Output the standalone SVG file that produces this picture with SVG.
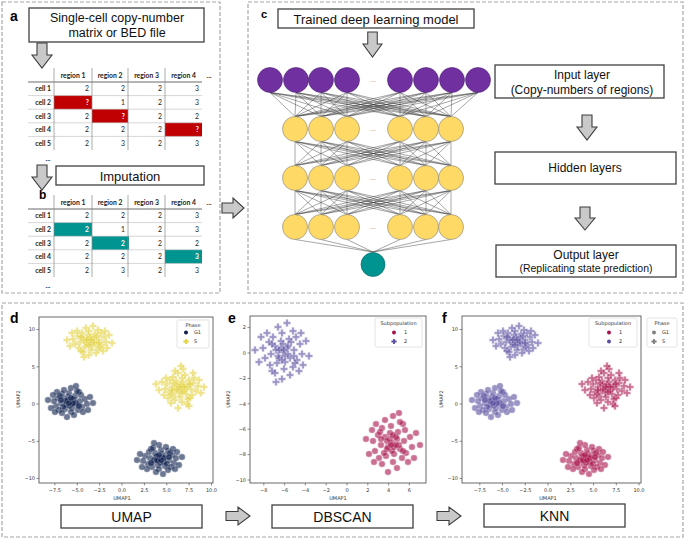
<svg xmlns="http://www.w3.org/2000/svg" width="685" height="539" viewBox="0 0 685 539">
<style>
.panel{fill:none;stroke:#a6a6a6;stroke-width:1.2;stroke-dasharray:4 2}
.box{fill:#fff;stroke:#404040;stroke-width:1.3}
.bt{font-family:"Liberation Sans",Arial,sans-serif;fill:#111;text-anchor:middle}
.lbl{font-family:"Liberation Sans",Arial,sans-serif;font-weight:bold;fill:#000}
.arr{fill:#c9c9c9;stroke:#3c3c3c;stroke-width:1.1}
.tb{font-family:Lato,"Liberation Sans",sans-serif;font-size:6.8px;fill:#222}
.th{font-weight:bold;text-anchor:middle}
.rl{font-weight:bold;text-anchor:end}
.num{text-anchor:end}
.q{fill:#fff;font-weight:bold}
.nn{stroke:#3a3a3a;stroke-width:.45;fill:none}
.pu{fill:#7030a0;stroke:#4a2070;stroke-width:.6}
.ye{fill:#ffd966;stroke:#7f7f7f;stroke-width:.6}
.te{fill:#009490;stroke:#006060;stroke-width:.6}
.dots{font-family:"DejaVu Sans",sans-serif;font-size:6px;fill:#777;text-anchor:middle}
.ax{fill:none;stroke:#444;stroke-width:.8}
.tk{stroke:#444;stroke-width:.6}
.pt{font-family:"DejaVu Sans",sans-serif;font-size:5px;fill:#333}
.xc{text-anchor:middle}
.yr{text-anchor:end}
.lg{fill:#fff;fill-opacity:.85;stroke:#d0d0d0;stroke-width:.6}
.glines line{stroke:#888;stroke-width:.7}
.glines .hd{stroke:#444;stroke-width:.8}
.glines .rw{stroke:#bbb;stroke-width:.6}
</style>
<defs>
<circle id="mc" r="3.3" stroke="#fff" stroke-width=".4" opacity=".6"/>
<path id="mp" d="M-1.2-3.7H1.2V-1.2H3.7V1.2H1.2V3.7H-1.2V1.2H-3.7V-1.2H-1.2Z" stroke="#fff" stroke-width=".35" opacity=".6"/>
<path id="lp" d="M-.9-2.6H.9V-.9H2.6V.9H.9V2.6H-.9V.9H-2.6V-.9H-.9Z"/>
<path id="da" d="M5,0H15V12H20L10,25L0,12H5Z"/>
<path id="ra" d="M0,4.5H12V0L24,9L12,18V13.5H0Z"/>
<g id="Ac"><use href="#mc" x="0" y="0"/><use href="#mc" x="3" y="-2"/><use href="#mc" x="-4" y="2"/><use href="#mc" x="6" y="3"/><use href="#mc" x="-7" y="-3"/><use href="#mc" x="2" y="5"/><use href="#mc" x="-2" y="-6"/><use href="#mc" x="9" y="-1"/><use href="#mc" x="-10" y="1"/><use href="#mc" x="5" y="-7"/><use href="#mc" x="-5" y="6"/><use href="#mc" x="12" y="4"/><use href="#mc" x="-12" y="-5"/><use href="#mc" x="1" y="9"/><use href="#mc" x="-1" y="-10"/><use href="#mc" x="8" y="8"/><use href="#mc" x="-8" y="-8"/><use href="#mc" x="14" y="-4"/><use href="#mc" x="-15" y="3"/><use href="#mc" x="4" y="-3"/><use href="#mc" x="-3" y="3"/><use href="#mc" x="7" y="-5"/><use href="#mc" x="-6" y="-1"/><use href="#mc" x="10" y="6"/><use href="#mc" x="-11" y="7"/><use href="#mc" x="16" y="1"/><use href="#mc" x="-17" y="-2"/><use href="#mc" x="0" y="-4"/><use href="#mc" x="2" y="2"/><use href="#mc" x="-2" y="-2"/><use href="#mc" x="11" y="-8"/><use href="#mc" x="-9" y="10"/><use href="#mc" x="19" y="-6"/><use href="#mc" x="-20" y="5"/><use href="#mc" x="6" y="12"/><use href="#mc" x="-4" y="-13"/><use href="#mc" x="13" y="10"/><use href="#mc" x="-13" y="-10"/><use href="#mc" x="22" y="2"/><use href="#mc" x="-23" y="-1"/><use href="#mc" x="3" y="-15"/><use href="#mc" x="-1" y="14"/><use href="#mc" x="17" y="7"/><use href="#mc" x="-18" y="-8"/><use href="#mc" x="8" y="-11"/><use href="#mc" x="-7" y="11"/><use href="#mc" x="4" y="1"/><use href="#mc" x="-3" y="-1"/><use href="#mc" x="1" y="-1"/><use href="#mc" x="-1" y="4"/><use href="#mc" x="9" y="2"/><use href="#mc" x="-9" y="-4"/><use href="#mc" x="15" y="-10"/><use href="#mc" x="-6" y="16"/></g>
<g id="Ap"><use href="#mp" x="0" y="0"/><use href="#mp" x="3" y="-2"/><use href="#mp" x="-4" y="2"/><use href="#mp" x="6" y="3"/><use href="#mp" x="-7" y="-3"/><use href="#mp" x="2" y="5"/><use href="#mp" x="-2" y="-6"/><use href="#mp" x="9" y="-1"/><use href="#mp" x="-10" y="1"/><use href="#mp" x="5" y="-7"/><use href="#mp" x="-5" y="6"/><use href="#mp" x="12" y="4"/><use href="#mp" x="-12" y="-5"/><use href="#mp" x="1" y="9"/><use href="#mp" x="-1" y="-10"/><use href="#mp" x="8" y="8"/><use href="#mp" x="-8" y="-8"/><use href="#mp" x="14" y="-4"/><use href="#mp" x="-15" y="3"/><use href="#mp" x="4" y="-3"/><use href="#mp" x="-3" y="3"/><use href="#mp" x="7" y="-5"/><use href="#mp" x="-6" y="-1"/><use href="#mp" x="10" y="6"/><use href="#mp" x="-11" y="7"/><use href="#mp" x="16" y="1"/><use href="#mp" x="-17" y="-2"/><use href="#mp" x="0" y="-4"/><use href="#mp" x="2" y="2"/><use href="#mp" x="-2" y="-2"/><use href="#mp" x="11" y="-8"/><use href="#mp" x="-9" y="10"/><use href="#mp" x="19" y="-6"/><use href="#mp" x="-20" y="5"/><use href="#mp" x="6" y="12"/><use href="#mp" x="-4" y="-13"/><use href="#mp" x="13" y="10"/><use href="#mp" x="-13" y="-10"/><use href="#mp" x="22" y="2"/><use href="#mp" x="-23" y="-1"/><use href="#mp" x="3" y="-15"/><use href="#mp" x="-1" y="14"/><use href="#mp" x="17" y="7"/><use href="#mp" x="-18" y="-8"/><use href="#mp" x="8" y="-11"/><use href="#mp" x="-7" y="11"/><use href="#mp" x="4" y="1"/><use href="#mp" x="-3" y="-1"/><use href="#mp" x="1" y="-1"/><use href="#mp" x="-1" y="4"/><use href="#mp" x="9" y="2"/><use href="#mp" x="-9" y="-4"/><use href="#mp" x="15" y="-10"/><use href="#mp" x="-6" y="16"/></g>
<g id="Ax"><use href="#mp" x="2" y="-19"/><use href="#mp" x="-6" y="-17"/><use href="#mp" x="8" y="18"/><use href="#mp" x="-3" y="20"/><use href="#mp" x="12" y="-15"/><use href="#mp" x="-10" y="15"/><use href="#mp" x="-25" y="-4"/><use href="#mp" x="0" y="-22"/></g>
<g id="Bc"><use href="#mc" x="0" y="0"/><use href="#mc" x="4" y="-4"/><use href="#mc" x="-5" y="4"/><use href="#mc" x="7" y="6"/><use href="#mc" x="-8" y="-6"/><use href="#mc" x="2" y="10"/><use href="#mc" x="-2" y="-11"/><use href="#mc" x="11" y="-2"/><use href="#mc" x="-12" y="2"/><use href="#mc" x="6" y="-13"/><use href="#mc" x="-6" y="11"/><use href="#mc" x="14" y="8"/><use href="#mc" x="-14" y="-10"/><use href="#mc" x="1" y="17"/><use href="#mc" x="-1" y="-19"/><use href="#mc" x="10" y="15"/><use href="#mc" x="-10" y="-15"/><use href="#mc" x="17" y="-8"/><use href="#mc" x="-18" y="6"/><use href="#mc" x="5" y="-6"/><use href="#mc" x="-4" y="6"/><use href="#mc" x="8" y="-10"/><use href="#mc" x="-7" y="-2"/><use href="#mc" x="12" y="11"/><use href="#mc" x="-13" y="13"/><use href="#mc" x="19" y="2"/><use href="#mc" x="-20" y="-4"/><use href="#mc" x="0" y="-8"/><use href="#mc" x="2" y="4"/><use href="#mc" x="-2" y="-4"/><use href="#mc" x="13" y="-15"/><use href="#mc" x="-11" y="19"/><use href="#mc" x="23" y="-11"/><use href="#mc" x="-24" y="10"/><use href="#mc" x="7" y="23"/><use href="#mc" x="-5" y="-25"/><use href="#mc" x="16" y="19"/><use href="#mc" x="-16" y="-19"/><use href="#mc" x="26" y="4"/><use href="#mc" x="-28" y="-2"/><use href="#mc" x="4" y="-29"/><use href="#mc" x="-1" y="27"/><use href="#mc" x="20" y="13"/><use href="#mc" x="-22" y="-15"/><use href="#mc" x="10" y="-21"/><use href="#mc" x="-8" y="21"/><use href="#mc" x="5" y="2"/><use href="#mc" x="-4" y="-2"/><use href="#mc" x="1" y="-2"/><use href="#mc" x="-1" y="8"/><use href="#mc" x="11" y="4"/><use href="#mc" x="-11" y="-8"/><use href="#mc" x="18" y="-19"/><use href="#mc" x="-7" y="30"/></g>
<g id="Bp"><use href="#mp" x="0" y="0"/><use href="#mp" x="4" y="-4"/><use href="#mp" x="-5" y="4"/><use href="#mp" x="7" y="6"/><use href="#mp" x="-8" y="-6"/><use href="#mp" x="2" y="10"/><use href="#mp" x="-2" y="-11"/><use href="#mp" x="11" y="-2"/><use href="#mp" x="-12" y="2"/><use href="#mp" x="6" y="-13"/><use href="#mp" x="-6" y="11"/><use href="#mp" x="14" y="8"/><use href="#mp" x="-14" y="-10"/><use href="#mp" x="1" y="17"/><use href="#mp" x="-1" y="-19"/><use href="#mp" x="10" y="15"/><use href="#mp" x="-10" y="-15"/><use href="#mp" x="17" y="-8"/><use href="#mp" x="-18" y="6"/><use href="#mp" x="5" y="-6"/><use href="#mp" x="-4" y="6"/><use href="#mp" x="8" y="-10"/><use href="#mp" x="-7" y="-2"/><use href="#mp" x="12" y="11"/><use href="#mp" x="-13" y="13"/><use href="#mp" x="19" y="2"/><use href="#mp" x="-20" y="-4"/><use href="#mp" x="0" y="-8"/><use href="#mp" x="2" y="4"/><use href="#mp" x="-2" y="-4"/><use href="#mp" x="13" y="-15"/><use href="#mp" x="-11" y="19"/><use href="#mp" x="23" y="-11"/><use href="#mp" x="-24" y="10"/><use href="#mp" x="7" y="23"/><use href="#mp" x="-5" y="-25"/><use href="#mp" x="16" y="19"/><use href="#mp" x="-16" y="-19"/><use href="#mp" x="26" y="4"/><use href="#mp" x="-28" y="-2"/><use href="#mp" x="4" y="-29"/><use href="#mp" x="-1" y="27"/><use href="#mp" x="20" y="13"/><use href="#mp" x="-22" y="-15"/><use href="#mp" x="10" y="-21"/><use href="#mp" x="-8" y="21"/><use href="#mp" x="5" y="2"/><use href="#mp" x="-4" y="-2"/><use href="#mp" x="1" y="-2"/><use href="#mp" x="-1" y="8"/><use href="#mp" x="11" y="4"/><use href="#mp" x="-11" y="-8"/><use href="#mp" x="18" y="-19"/><use href="#mp" x="-7" y="30"/></g>
<path id="hh" d="M295 0L295 24M295 0L321 24M295 0L347 24M295 0L400 24M295 0L426 24M295 0L451 24M321 0L295 24M321 0L321 24M321 0L347 24M321 0L400 24M321 0L426 24M321 0L451 24M347 0L295 24M347 0L321 24M347 0L347 24M347 0L400 24M347 0L426 24M347 0L451 24M400 0L295 24M400 0L321 24M400 0L347 24M400 0L400 24M400 0L426 24M400 0L451 24M426 0L295 24M426 0L321 24M426 0L347 24M426 0L400 24M426 0L426 24M426 0L451 24M451 0L295 24M451 0L321 24M451 0L347 24M451 0L400 24M451 0L426 24M451 0L451 24"/>
<g id="grid" class="glines">
<line class="hd" x1="0" y1="14" x2="174" y2="14"/>
<line class="rw" x1="0" y1="27.6" x2="174" y2="27.6"/>
<line class="rw" x1="0" y1="41.2" x2="174" y2="41.2"/>
<line class="rw" x1="0" y1="54.8" x2="174" y2="54.8"/>
<line class="rw" x1="0" y1="68.4" x2="174" y2="68.4"/>
<line x1="26" y1="0" x2="26" y2="82"/>
<line x1="64" y1="0" x2="64" y2="82"/>
<line x1="100" y1="0" x2="100" y2="82"/>
<line x1="137" y1="0" x2="137" y2="82"/>
</g>
</defs>
<rect width="685" height="539" fill="#fff"/>

<!-- panel frames -->
<g id="frames">
<rect class="panel" x="2" y="2" width="218" height="291"/>
<rect class="panel" x="248" y="2" width="435" height="291"/>
<rect class="panel" x="2" y="303" width="681" height="234"/>
</g>

<!-- panel letters -->
<g id="letters" class="lbl">
<text x="10" y="21" font-size="14">a</text>
<text x="39" y="199" font-size="12">b</text>
<text x="261" y="18" font-size="11">c</text>
<text x="10" y="323" font-size="14">d</text>
<text x="228" y="323" font-size="14">e</text>
<text x="442" y="323" font-size="14">f</text>
</g>

<!-- connectors (block arrows) -->
<g id="connectors" class="arr">
<use href="#da" transform="translate(32,43)"/>
<use href="#da" transform="translate(32,165)"/>
<use href="#da" transform="translate(363,32) scale(0.95,1)"/>
<use href="#da" transform="translate(577,115)"/>
<use href="#da" transform="translate(575,207) scale(1,0.92)"/>
<path d="M222,203H233V198L244,208L233,218V213H222Z"/>
<use href="#ra" transform="translate(226,507)"/>
<use href="#ra" transform="translate(437,507)"/>
</g>

<!-- boxes -->
<g id="box-input-file">
<rect class="box" x="29" y="8" width="175" height="34"/>
<text class="bt" x="117" y="21.5" font-size="12.5">Single-cell copy-number</text>
<text class="bt" x="117" y="36.5" font-size="12.5">matrix or BED file</text>
</g>
<g id="box-imputation">
<rect class="box" x="56" y="166" width="148" height="19"/>
<text class="bt" x="130" y="180.5" font-size="13">Imputation</text>
</g>
<g id="box-model">
<rect class="box" x="278" y="9" width="196" height="19"/>
<text class="bt" x="376" y="23.5" font-size="13">Trained deep learning model</text>
</g>
<g id="box-inputlayer">
<rect class="box" x="495" y="65" width="169" height="33"/>
<text class="bt" x="582" y="79" font-size="12">Input layer</text>
<text class="bt" x="582" y="94" font-size="12">(Copy-numbers of regions)</text>
</g>
<g id="box-hidden">
<rect class="box" x="495" y="152" width="181" height="32"/>
<text class="bt" x="585" y="172" font-size="12">Hidden layers</text>
</g>
<g id="box-output">
<rect class="box" x="496" y="245" width="180" height="32"/>
<text class="bt" x="586" y="259" font-size="12">Output layer</text>
<text class="bt" x="586" y="272" font-size="10.5">(Replicating state prediction)</text>
</g>
<g id="box-umap">
<rect class="box" x="61" y="505" width="141" height="23"/>
<text class="bt" x="131.5" y="522" font-size="14">UMAP</text>
</g>
<g id="box-dbscan">
<rect class="box" x="272" y="505" width="141" height="23"/>
<text class="bt" x="342.5" y="522" font-size="14">DBSCAN</text>
</g>
<g id="box-knn">
<rect class="box" x="484" y="504" width="141" height="23"/>
<text class="bt" x="554.5" y="521" font-size="14">KNN</text>
</g>

<!-- table a -->
<g id="table-a" class="tb">
<rect x="54" y="95.6" width="38" height="13.6" fill="#c00000"/>
<rect x="92" y="109.2" width="36" height="13.6" fill="#c00000"/>
<rect x="165" y="122.8" width="37" height="13.6" fill="#c00000"/>
<use href="#grid" x="28" y="68"/>
<text class="th" x="73" y="78">region 1</text>
<text class="th" x="110" y="78">region 2</text>
<text class="th" x="146.5" y="78">region 3</text>
<text class="th" x="183.5" y="78">region 4</text>
<text class="th" x="209" y="78">...</text>
<text class="rl" x="51" y="91.3">cell 1</text>
<text class="rl" x="51" y="104.9">cell 2</text>
<text class="rl" x="51" y="118.5">cell 3</text>
<text class="rl" x="51" y="132.1">cell 4</text>
<text class="rl" x="51" y="145.7">cell 5</text>
<g class="num">
<text x="89" y="91.3">2</text><text x="125" y="91.3">2</text><text x="162" y="91.3">2</text><text x="199" y="91.3">3</text>
<text x="89" y="104.9" class="q">?</text><text x="125" y="104.9">1</text><text x="162" y="104.9">2</text><text x="199" y="104.9">3</text>
<text x="89" y="118.5">2</text><text x="125" y="118.5" class="q">?</text><text x="162" y="118.5">2</text><text x="199" y="118.5">2</text>
<text x="89" y="132.1">2</text><text x="125" y="132.1">2</text><text x="162" y="132.1">2</text><text x="199" y="132.1" class="q">?</text>
<text x="89" y="145.7">2</text><text x="125" y="145.7">3</text><text x="162" y="145.7">2</text><text x="199" y="145.7">3</text>
</g>
<text class="th" x="48" y="161">...</text>
</g>

<!-- table b -->
<g id="table-b" class="tb">
<rect x="54" y="222.6" width="38" height="13.6" fill="#009490"/>
<rect x="92" y="236.2" width="37" height="13.6" fill="#009490"/>
<rect x="165" y="249.8" width="37" height="13.6" fill="#009490"/>
<use href="#grid" x="28" y="195"/>
<text class="th" x="73" y="205">region 1</text>
<text class="th" x="110" y="205">region 2</text>
<text class="th" x="146.5" y="205">region 3</text>
<text class="th" x="183.5" y="205">region 4</text>
<text class="th" x="209" y="205">...</text>
<text class="rl" x="51" y="218.3">cell 1</text>
<text class="rl" x="51" y="231.9">cell 2</text>
<text class="rl" x="51" y="245.5">cell 3</text>
<text class="rl" x="51" y="259.1">cell 4</text>
<text class="rl" x="51" y="272.7">cell 5</text>
<g class="num">
<text x="89" y="218.3">2</text><text x="125" y="218.3">2</text><text x="162" y="218.3">2</text><text x="199" y="218.3">3</text>
<text x="89" y="231.9" class="q">2</text><text x="125" y="231.9">1</text><text x="162" y="231.9">2</text><text x="199" y="231.9">3</text>
<text x="89" y="245.5">2</text><text x="125" y="245.5" class="q">2</text><text x="162" y="245.5">2</text><text x="199" y="245.5">2</text>
<text x="89" y="259.1">2</text><text x="125" y="259.1">2</text><text x="162" y="259.1">2</text><text x="199" y="259.1" class="q">3</text>
<text x="89" y="272.7">2</text><text x="125" y="272.7">3</text><text x="162" y="272.7">2</text><text x="199" y="272.7">3</text>
</g>
<text class="th" x="48" y="288">...</text>
</g>

<!-- network connections -->
<g id="nn-edges" class="nn">
<path d="M270 92.5L295 116.5M270 92.5L321 116.5M270 92.5L347 116.5M270 92.5L400 116.5M270 92.5L426 116.5M270 92.5L451 116.5M296 92.5L295 116.5M296 92.5L321 116.5M296 92.5L347 116.5M296 92.5L400 116.5M296 92.5L426 116.5M296 92.5L451 116.5M321 92.5L295 116.5M321 92.5L321 116.5M321 92.5L347 116.5M321 92.5L400 116.5M321 92.5L426 116.5M321 92.5L451 116.5M347 92.5L295 116.5M347 92.5L321 116.5M347 92.5L347 116.5M347 92.5L400 116.5M347 92.5L426 116.5M347 92.5L451 116.5M400 92.5L295 116.5M400 92.5L321 116.5M400 92.5L347 116.5M400 92.5L400 116.5M400 92.5L426 116.5M400 92.5L451 116.5M426 92.5L295 116.5M426 92.5L321 116.5M426 92.5L347 116.5M426 92.5L400 116.5M426 92.5L426 116.5M426 92.5L451 116.5M452 92.5L295 116.5M452 92.5L321 116.5M452 92.5L347 116.5M452 92.5L400 116.5M452 92.5L426 116.5M452 92.5L451 116.5M478 92.5L295 116.5M478 92.5L321 116.5M478 92.5L347 116.5M478 92.5L400 116.5M478 92.5L426 116.5M478 92.5L451 116.5"/>
<use href="#hh" y="141.5"/>
<use href="#hh" y="190.5"/>
<path d="M295 239.5L373 252M321 239.5L373 252M347 239.5L373 252M400 239.5L373 252M426 239.5L373 252M451 239.5L373 252"/>
</g>

<!-- network nodes -->
<g id="layer-input" class="pu">
<circle cx="270" cy="80" r="12.5"/><circle cx="296" cy="80" r="12.5"/><circle cx="321" cy="80" r="12.5"/><circle cx="347" cy="80" r="12.5"/>
<circle cx="400" cy="80" r="12.5"/><circle cx="426" cy="80" r="12.5"/><circle cx="452" cy="80" r="12.5"/><circle cx="478" cy="80" r="12.5"/>
</g>
<g id="layer-hidden1" class="ye">
<circle cx="295" cy="129" r="12.5"/><circle cx="321" cy="129" r="12.5"/><circle cx="347" cy="129" r="12.5"/>
<circle cx="400" cy="129" r="12.5"/><circle cx="426" cy="129" r="12.5"/><circle cx="451" cy="129" r="12.5"/>
</g>
<g id="layer-hidden2" class="ye">
<circle cx="295" cy="178" r="12.5"/><circle cx="321" cy="178" r="12.5"/><circle cx="347" cy="178" r="12.5"/>
<circle cx="400" cy="178" r="12.5"/><circle cx="426" cy="178" r="12.5"/><circle cx="451" cy="178" r="12.5"/>
</g>
<g id="layer-hidden3" class="ye">
<circle cx="295" cy="227" r="12.5"/><circle cx="321" cy="227" r="12.5"/><circle cx="347" cy="227" r="12.5"/>
<circle cx="400" cy="227" r="12.5"/><circle cx="426" cy="227" r="12.5"/><circle cx="451" cy="227" r="12.5"/>
</g>
<g id="layer-output" class="te"><circle cx="373" cy="264.5" r="12"/></g>
<g id="layer-dots" class="dots">
<text x="373" y="82">...</text><text x="373" y="131">...</text><text x="373" y="180">...</text><text x="373" y="229">...</text>
</g>

<!-- plot d -->
<g id="plot-d">
<use href="#Ap" fill="#e3d23a" transform="translate(90,341)"/>
<use href="#Ap" fill="#e3d23a" transform="translate(181,388) scale(-1,1)"/>
<use href="#Ax" fill="#e3d23a" transform="translate(181,388)"/>
<use href="#Ac" fill="#0d1f4d" transform="translate(70,402) rotate(180)"/>
<use href="#Ac" fill="#0d1f4d" transform="translate(160,459) scale(1,-1)"/>
<rect class="ax" x="39" y="317" width="174" height="166"/>
<g class="tk">
<path d="M54.9 483v2.5M77.3 483v2.5M99.6 483v2.5M122 483v2.5M144.4 483v2.5M166.8 483v2.5M189.1 483v2.5M211.5 483v2.5M39 329.5h-2.5M39 366.8h-2.5M39 404h-2.5M39 441.3h-2.5M39 478.5h-2.5"/>
</g>
<g class="pt xc">
<text x="54.9" y="491.5">−7.5</text><text x="77.3" y="491.5">−5.0</text><text x="99.6" y="491.5">−2.5</text><text x="122" y="491.5">0.0</text><text x="144.4" y="491.5">2.5</text><text x="166.8" y="491.5">5.0</text><text x="189.1" y="491.5">7.5</text><text x="211.5" y="491.5">10.0</text>
<text x="122" y="499.5">UMAP1</text>
<text transform="translate(20,399) rotate(-90)">UMAP2</text>
</g>
<g class="pt yr">
<text x="35" y="331.3">10</text><text x="35" y="368.6">5</text><text x="35" y="405.8">0</text><text x="35" y="443.1">−5</text><text x="35" y="480.3">−10</text>
</g>
<g id="legend-d">
<rect class="lg" x="177" y="320" width="32" height="28" rx="1.5"/>
<text class="pt xc" x="193" y="326.5">Phase</text>
<circle cx="186" cy="332.5" r="2" fill="#0d1f4d"/>
<text class="pt" x="194" y="334.3">G1</text>
<use href="#lp" x="186" y="341.5" fill="#e3d23a"/>
<text class="pt" x="194" y="343.3">S</text>
</g>
</g>

<!-- plot e -->
<g id="plot-e">
<use href="#Bp" fill="#5a4fa0" transform="translate(283,352)"/>
<use href="#Bc" fill="#a8134c" transform="translate(392,443) rotate(180)"/>
<rect class="ax" x="250" y="316" width="176" height="167"/>
<g class="tk">
<path d="M263.8 483v2.5M284.6 483v2.5M305.4 483v2.5M326.2 483v2.5M347 483v2.5M367.8 483v2.5M388.6 483v2.5M409.4 483v2.5M250 327.6h-2.5M250 353h-2.5M250 378.4h-2.5M250 403.8h-2.5M250 429.2h-2.5M250 454.6h-2.5M250 480h-2.5"/>
</g>
<g class="pt xc">
<text x="263.8" y="491.5">−8</text><text x="284.6" y="491.5">−6</text><text x="305.4" y="491.5">−4</text><text x="326.2" y="491.5">−2</text><text x="347" y="491.5">0</text><text x="367.8" y="491.5">2</text><text x="388.6" y="491.5">4</text><text x="409.4" y="491.5">6</text>
<text x="338" y="499.5">UMAP1</text>
<text transform="translate(230,399) rotate(-90)">UMAP2</text>
</g>
<g class="pt yr">
<text x="246" y="329.4">2</text><text x="246" y="354.8">0</text><text x="246" y="380.2">−2</text><text x="246" y="405.6">−4</text><text x="246" y="431">−6</text><text x="246" y="456.4">−8</text><text x="246" y="481.8">−10</text>
</g>
<g id="legend-e">
<rect class="lg" x="375" y="318" width="47" height="29" rx="1.5"/>
<text class="pt xc" x="398.5" y="324.5">Subpopulation</text>
<circle cx="394" cy="332.5" r="2" fill="#a8134c"/>
<text class="pt" x="404" y="334.3">1</text>
<use href="#lp" x="394" y="341.5" fill="#5a4fa0"/>
<text class="pt" x="404" y="343.3">2</text>
</g>
</g>

<!-- plot f -->
<g id="plot-f">
<use href="#Ap" fill="#5a4fa0" transform="translate(516,341)"/>
<use href="#Ap" fill="#a8134c" transform="translate(607,388) scale(-1,1)"/>
<use href="#Ax" fill="#a8134c" transform="translate(607,388)"/>
<use href="#Ac" fill="#5a4fa0" transform="translate(494,402) rotate(180)"/>
<use href="#Ac" fill="#a8134c" transform="translate(586,459) scale(1,-1)"/>
<rect class="ax" x="462" y="316" width="179" height="167"/>
<g class="tk">
<path d="M479.8 483v2.5M502.5 483v2.5M525.3 483v2.5M548 483v2.5M570.8 483v2.5M593.5 483v2.5M616.3 483v2.5M639 483v2.5M462 329.5h-2.5M462 366.8h-2.5M462 404h-2.5M462 441.3h-2.5M462 478.5h-2.5"/>
</g>
<g class="pt xc">
<text x="479.8" y="491.5">−7.5</text><text x="502.5" y="491.5">−5.0</text><text x="525.3" y="491.5">−2.5</text><text x="548" y="491.5">0.0</text><text x="570.8" y="491.5">2.5</text><text x="593.5" y="491.5">5.0</text><text x="616.3" y="491.5">7.5</text><text x="639" y="491.5">10.0</text>
<text x="548" y="499.5">UMAP1</text>
<text transform="translate(443,399) rotate(-90)">UMAP2</text>
</g>
<g class="pt yr">
<text x="458" y="331.3">10</text><text x="458" y="368.6">5</text><text x="458" y="405.8">0</text><text x="458" y="443.1">−5</text><text x="458" y="480.3">−10</text>
</g>
<g id="legend-f-sub">
<rect class="lg" x="589" y="318" width="48" height="29" rx="1.5"/>
<text class="pt xc" x="613" y="324.5">Subpopulation</text>
<circle cx="609" cy="332.5" r="2" fill="#a8134c"/>
<text class="pt" x="619" y="334.3">1</text>
<circle cx="609" cy="341.5" r="2" fill="#5a4fa0"/>
<text class="pt" x="619" y="343.3">2</text>
</g>
<g id="legend-f-phase">
<rect class="lg" x="647" y="318" width="30" height="29" rx="1.5"/>
<text class="pt xc" x="662" y="324.5">Phase</text>
<circle cx="654" cy="332.5" r="2" fill="#808080"/>
<text class="pt" x="662" y="334.3">G1</text>
<use href="#lp" x="654" y="341.5" fill="#808080"/>
<text class="pt" x="662" y="343.3">S</text>
</g>
</g>
</svg>
